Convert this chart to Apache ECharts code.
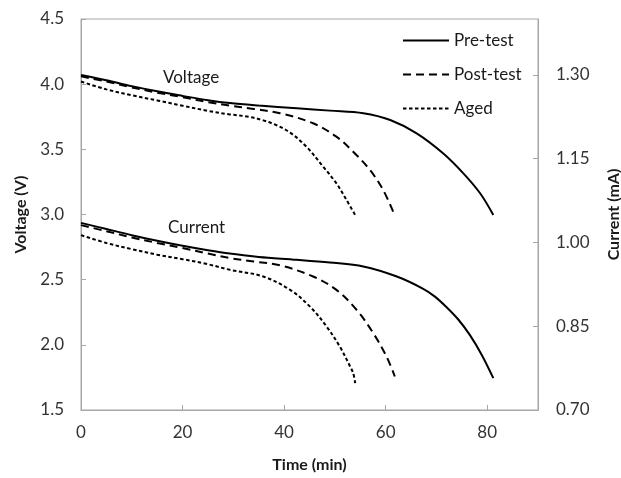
<!DOCTYPE html>
<html>
<head>
<meta charset="utf-8">
<script src="https://cdn.jsdelivr.net/npm/echarts@6/dist/echarts.min.js"></script>
<style>
  html, body { margin: 0; padding: 0; background: #fff; }
  #main { width: 621px; height: 478px; }
</style>
</head>
<body>
<div id="main"></div>
<script>
// voltage curves: time (min) and voltage (V)
const preVT  = [0, 5, 10, 15, 20, 25, 29.3, 35, 42.5, 49, 55.6, 60.9, 66.1, 71.3, 75.3, 78.6, 81.2]
const preV   = [4.07, 4.03, 3.985, 3.945, 3.91, 3.877, 3.855, 3.836, 3.815, 3.797, 3.777, 3.725, 3.623, 3.47, 3.316, 3.163, 2.996]
const postVT = [0, 5, 10, 15, 20, 25, 29.3, 34, 39.2, 45.7, 50.3, 53.6, 56.9, 59.5, 61.5]
const postV  = [4.06, 4.02, 3.975, 3.935, 3.90, 3.862, 3.835, 3.81, 3.777, 3.70, 3.597, 3.482, 3.342, 3.188, 3.02]
const agedVT = [0, 5, 10, 15, 20, 25, 29.3, 33, 35.9, 38.5, 41.2, 44.4, 47.7, 50.3, 52.3, 54]
const agedV  = [4.02, 3.96, 3.915, 3.875, 3.835, 3.795, 3.768, 3.75, 3.722, 3.685, 3.628, 3.52, 3.367, 3.239, 3.111, 2.996]

// current curves: time (min) and current (mA)
const preIT  = [0, 5, 10, 15, 20, 25, 29.3, 35, 42.5, 49, 55.6, 62.2, 67.4, 69.7, 72, 74.3, 76.6, 78.9, 81.2]
const preI   = [1.035, 1.024, 1.013, 1.003, 0.994, 0.986, 0.980, 0.974, 0.969, 0.964, 0.957, 0.939, 0.917, 0.903, 0.884, 0.862, 0.834, 0.799, 0.757]
const postIT = [0, 5, 10, 15, 20, 25, 29.3, 34, 39.2, 45.7, 50.3, 54.3, 57.6, 60.2, 61.8]
const postI  = [1.031, 1.020, 1.009, 0.999, 0.990, 0.980, 0.972, 0.966, 0.959, 0.939, 0.915, 0.879, 0.837, 0.795, 0.760]
const agedIT = [0, 5, 10, 15, 20, 25, 29.3, 35.9, 41.2, 45.1, 48.4, 51, 53, 53.6, 54]
const agedI  = [1.013, 0.999, 0.988, 0.978, 0.970, 0.961, 0.951, 0.939, 0.915, 0.885, 0.849, 0.813, 0.778, 0.766, 0.748]

const xTicks = [0, 20, 40, 60, 80]
const currentTicks = [0.70, 0.85, 1.00, 1.15, 1.30]

const pair = (ts, vs) => ts.map((t, i) => [t, vs[i]])

const FONT = 'Lato'
const frame = '#a6a6a6'
const styles = {
  'Pre-test':  { type: 'solid', width: 2 },
  'Post-test': { type: [8, 5], width: 2 },
  'Aged':      { type: [3.5, 2.5], width: 2 }
}

const mk = (name, ts, vs, axis) => ({
  name: name,
  type: 'line',
  yAxisIndex: axis,
  data: pair(ts, vs),
  symbol: 'none',
  smooth: 0.35,
  animation: false,
  itemStyle: { color: '#000' },
  lineStyle: Object.assign({ color: '#000' }, styles[name])
})

const chart = echarts.init(document.getElementById('main'))
chart.setOption({
  backgroundColor: '#fff',
  textStyle: { fontFamily: FONT },
  grid: {
    left: 81, right: 83, top: 19, bottom: 68,
    outerBoundsMode: 'none', containLabel: false,
    show: true, borderColor: frame, borderWidth: 1
  },
  legend: {
    orient: 'vertical',
    left: 397,
    top: 27,
    itemWidth: 46,
    itemHeight: 16,
    itemGap: 17,
    itemStyle: { opacity: 0 },
    data: ['Pre-test', 'Post-test', 'Aged'],
    textStyle: { fontFamily: FONT, fontSize: 17, color: '#1a1a1a' }
  },
  graphic: [
    { type: 'text', left: 163, top: 69, style: { text: 'Voltage', font: '17px ' + FONT, fill: '#1a1a1a' } },
    { type: 'text', left: 168, top: 219, style: { text: 'Current', font: '17px ' + FONT, fill: '#1a1a1a' } }
  ],
  xAxis: {
    type: 'value',
    min: 0,
    max: 90,
    name: 'Time (min)',
    nameLocation: 'middle',
    nameGap: 47,
    nameTextStyle: { fontFamily: FONT, fontSize: 16, fontWeight: 'bold', color: '#1a1a1a' },
    axisLine: { lineStyle: { color: frame } },
    axisTick: { inside: true, length: 5, lineStyle: { color: frame }, customValues: xTicks },
    axisLabel: { customValues: xTicks, fontSize: 17, color: '#333', margin: 14 },
    splitLine: { show: false }
  },
  yAxis: [
    {
      type: 'value',
      min: 1.5,
      max: 4.5,
      interval: 0.5,
      name: 'Voltage (V)',
      nameLocation: 'middle',
      nameRotate: 90,
      nameGap: 52,
      nameTextStyle: { fontFamily: FONT, fontSize: 16, fontWeight: 'bold', color: '#1a1a1a' },
      axisLine: { show: true, lineStyle: { color: frame } },
      axisTick: { show: true, inside: true, length: 5, lineStyle: { color: frame } },
      axisLabel: { fontSize: 17, color: '#333', margin: 17, formatter: v => v.toFixed(1) },
      splitLine: { show: false }
    },
    {
      type: 'value',
      position: 'right',
      min: 0.70,
      max: 1.40,
      name: 'Current (mA)',
      nameLocation: 'middle',
      nameRotate: 90,
      nameGap: 68,
      nameTextStyle: { fontFamily: FONT, fontSize: 16, fontWeight: 'bold', color: '#1a1a1a' },
      axisLine: { show: true, lineStyle: { color: frame } },
      axisTick: { show: true, inside: true, length: 5, lineStyle: { color: frame }, customValues: currentTicks },
      axisLabel: { customValues: currentTicks, fontSize: 17, color: '#333', margin: 18, formatter: v => v.toFixed(2) },
      splitLine: { show: false }
    }
  ],
  series: [
    mk('Pre-test', preVT, preV, 0),
    mk('Post-test', postVT, postV, 0),
    mk('Aged', agedVT, agedV, 0),
    mk('Pre-test', preIT, preI, 1),
    mk('Post-test', postIT, postI, 1),
    mk('Aged', agedIT, agedI, 1)
  ]
})
</script>
</body>
</html>
